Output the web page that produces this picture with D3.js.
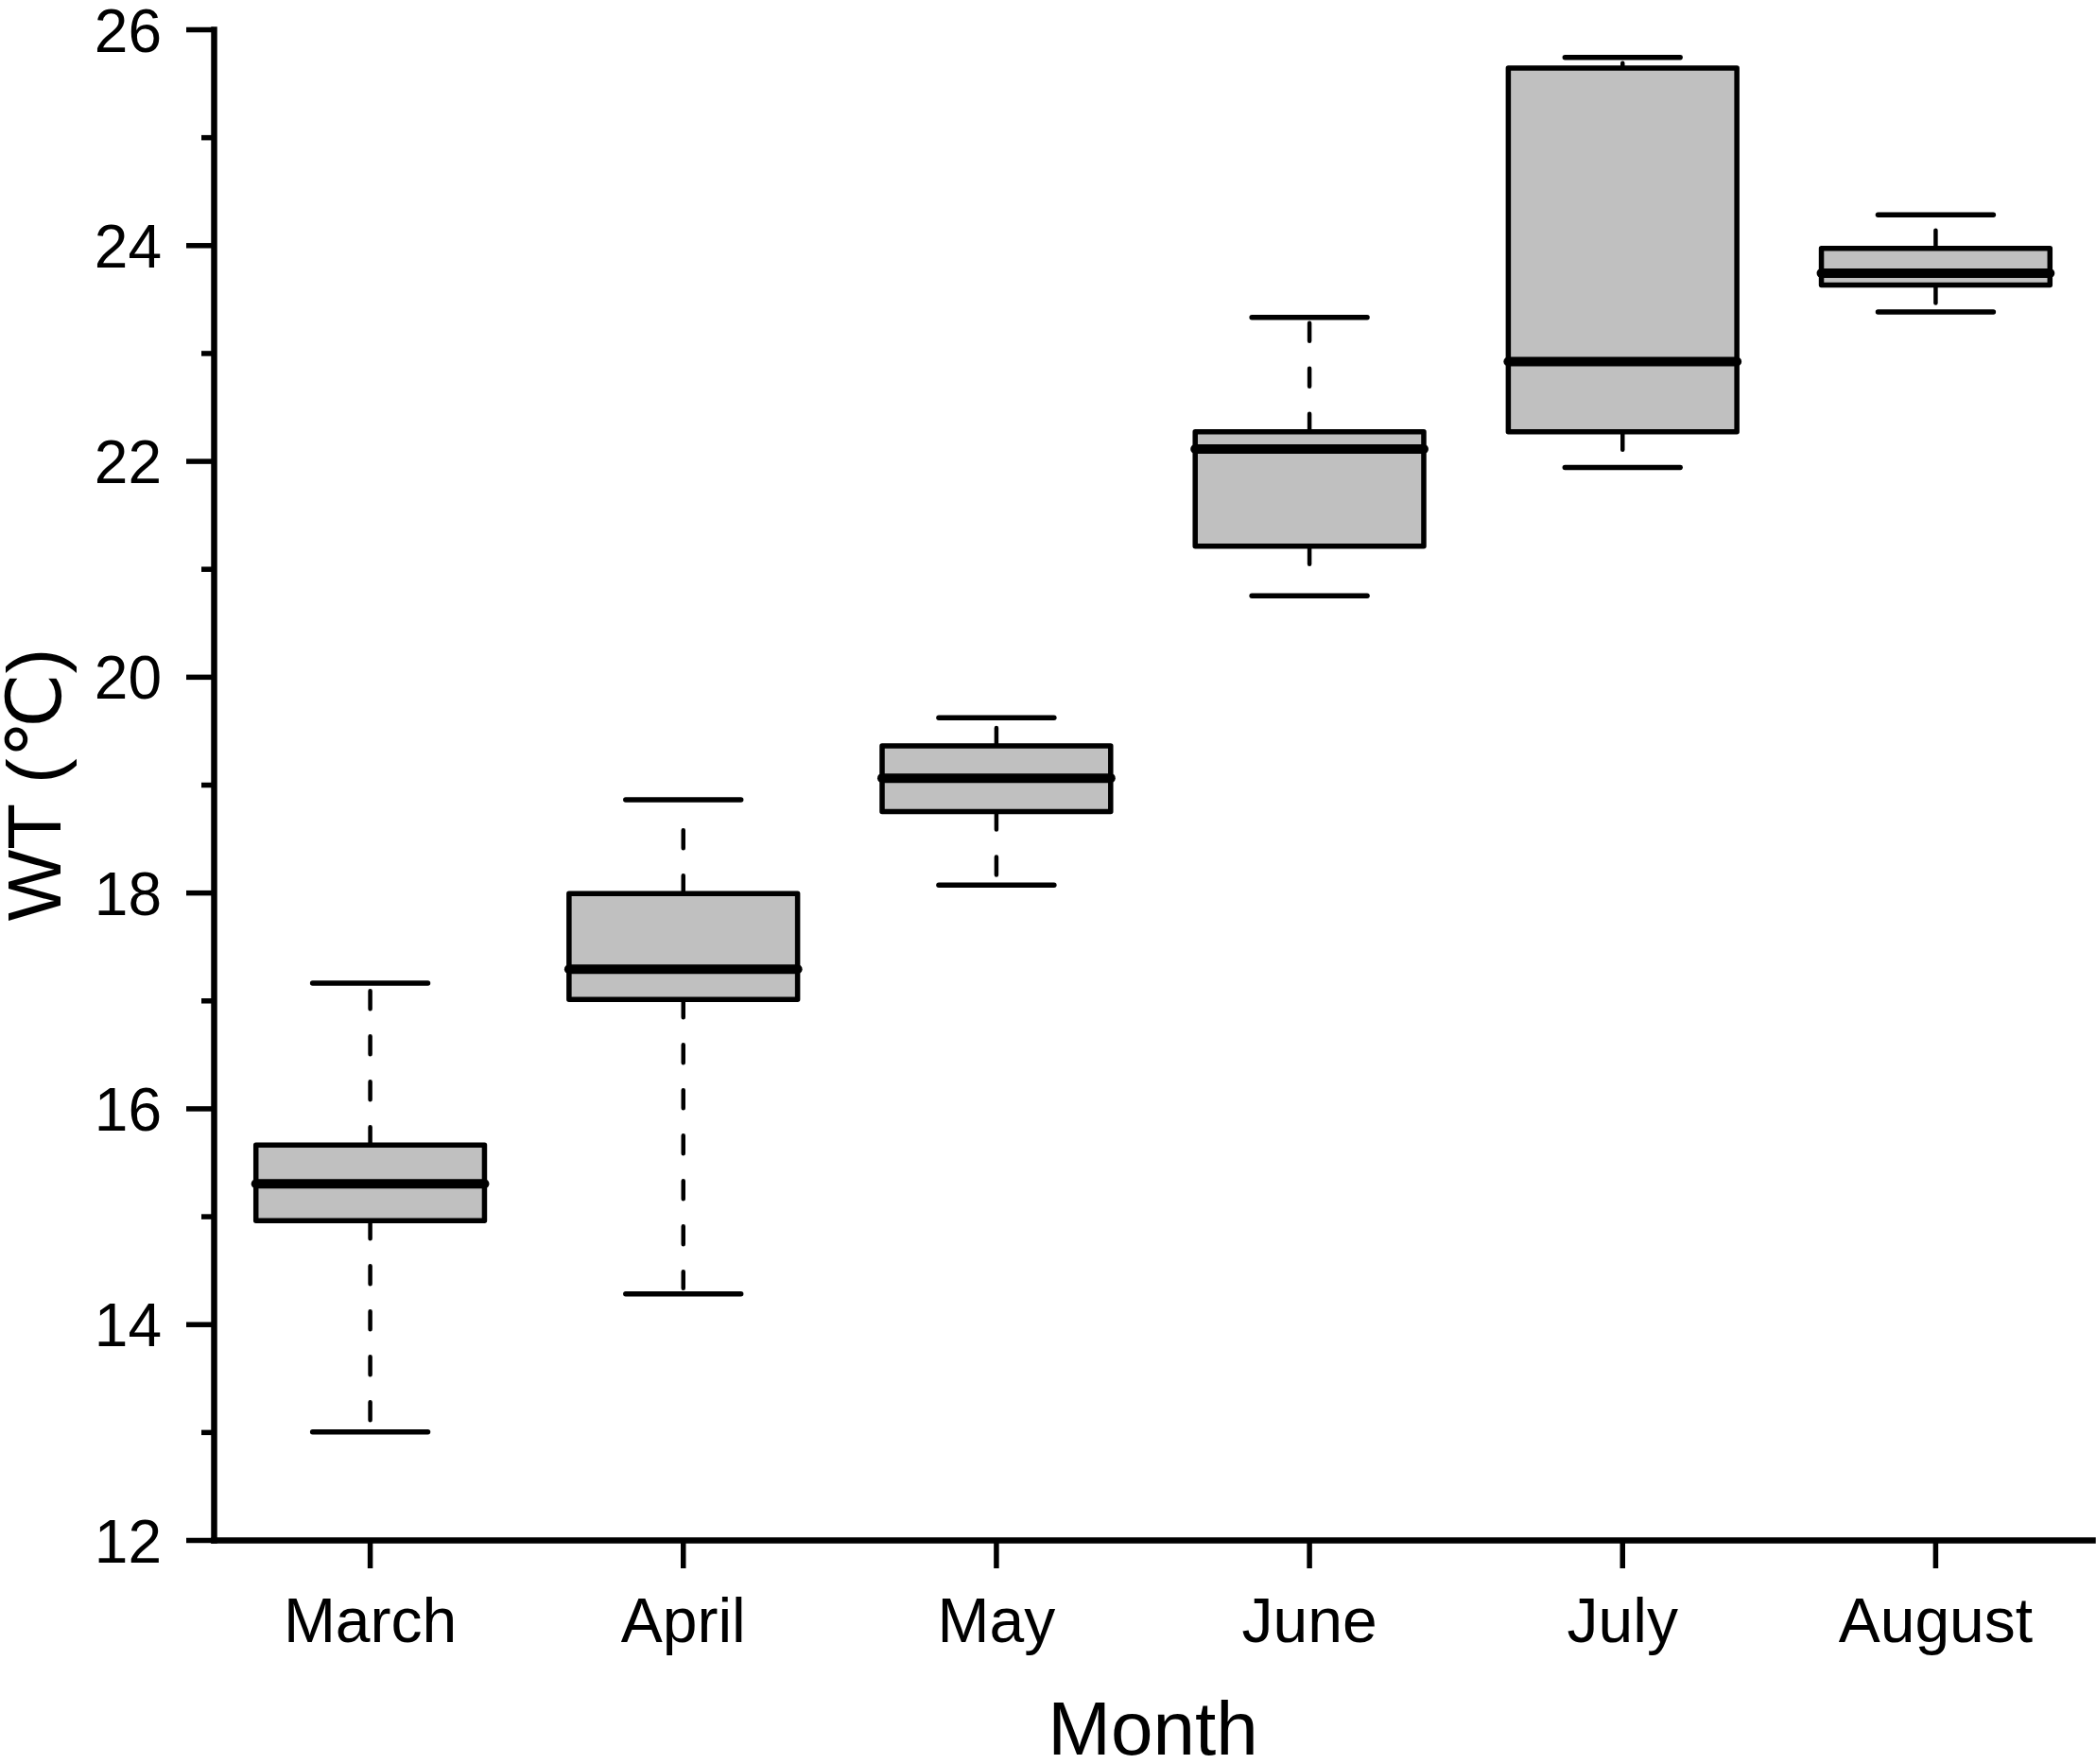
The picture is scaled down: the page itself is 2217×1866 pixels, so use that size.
<!DOCTYPE html>
<html>
<head>
<meta charset="utf-8">
<script src="https://cdn.jsdelivr.net/npm/d3@7"></script>
<style>
  html, body { margin: 0; padding: 0; background: #fff; }
  svg { display: block; }
  text { font-family: "Liberation Sans", Arial, "DejaVu Sans", sans-serif; fill: #000; }
</style>
</head>
<body>
<svg id="chart" width="2217" height="1866"></svg>
<script>
// ---- data ----
const months = ["March", "April", "May", "June", "July", "August"];
const whiskerLow  = [13.00, 14.28, 18.07, 20.75, 21.94, 23.38];
const q1          = [14.96, 17.01, 18.75, 21.21, 22.27, 23.63];
const median      = [15.30, 17.29, 19.06, 22.11, 22.92, 23.74];
const q3          = [15.66, 17.99, 19.36, 22.27, 25.64, 23.97];
const whiskerHigh = [17.16, 18.86, 19.62, 23.33, 25.74, 24.28];
const yMajorTicks = [12, 14, 16, 18, 20, 22, 24, 26];
const yMinorTicks = [13, 15, 17, 19, 21, 23, 25];
const yLabel = "WT (℃)";
const xLabel = "Month";

const rows = months.map((m, i) => ({
  month: m, lo: whiskerLow[i], q1: q1[i], med: median[i], q3: q3[i], hi: whiskerHigh[i]
}));

// ---- layout ----
const svg = d3.select("#chart");
const plotLeft = 226, plotRight = 2213, plotTop = 31, plotBottom = 1629;

const x = d3.scaleBand().domain(months).range([plotLeft, plotRight]).padding(0);
const y = d3.scaleLinear().domain([12, 26]).range([plotBottom, plotTop]);

const boxW = x.bandwidth() * 0.73;
const capW = x.bandwidth() * 0.368;
const cx = d => x(d.month) + x.bandwidth() / 2;

// ---- boxes ----
const g = svg.append("g");

// whiskers (dashed, starting from box edge)
g.selectAll("line.wup").data(rows).join("line")
  .attr("class", "wup")
  .attr("x1", cx).attr("x2", cx)
  .attr("y1", d => y(d.q3)).attr("y2", d => y(d.hi) + 6)
  .attr("stroke", "#000").attr("stroke-width", 4.5)
  .attr("stroke-linecap", "round")
  .attr("stroke-dasharray", "19,29");
g.selectAll("line.wlo").data(rows).join("line")
  .attr("class", "wlo")
  .attr("x1", cx).attr("x2", cx)
  .attr("y1", d => y(d.q1)).attr("y2", d => y(d.lo) - 6)
  .attr("stroke", "#000").attr("stroke-width", 4.5)
  .attr("stroke-linecap", "round")
  .attr("stroke-dasharray", "19,29");

// caps
g.selectAll("line.caphi").data(rows).join("line")
  .attr("class", "caphi")
  .attr("x1", d => cx(d) - capW / 2).attr("x2", d => cx(d) + capW / 2)
  .attr("y1", d => y(d.hi)).attr("y2", d => y(d.hi))
  .attr("stroke", "#000").attr("stroke-width", 5.5).attr("stroke-linecap", "round");
g.selectAll("line.caplo").data(rows).join("line")
  .attr("class", "caplo")
  .attr("x1", d => cx(d) - capW / 2).attr("x2", d => cx(d) + capW / 2)
  .attr("y1", d => y(d.lo)).attr("y2", d => y(d.lo))
  .attr("stroke", "#000").attr("stroke-width", 5.5).attr("stroke-linecap", "round");

// box rect
g.selectAll("rect.box").data(rows).join("rect")
  .attr("class", "box")
  .attr("x", d => cx(d) - boxW / 2)
  .attr("width", boxW)
  .attr("y", d => y(d.q3))
  .attr("height", d => y(d.q1) - y(d.q3))
  .attr("fill", "#c0c0c0")
  .attr("stroke", "#000").attr("stroke-width", 5.5)
  .attr("stroke-linejoin", "round");

// medians
g.selectAll("line.med").data(rows).join("line")
  .attr("class", "med")
  .attr("x1", d => cx(d) - boxW / 2).attr("x2", d => cx(d) + boxW / 2)
  .attr("y1", d => y(d.med)).attr("y2", d => y(d.med))
  .attr("stroke", "#000").attr("stroke-width", 10).attr("stroke-linecap", "round");

// ---- axes ----
const axisW = 6.5, tickW = 5.5;

const yAxis = svg.append("g").attr("transform", `translate(${plotLeft},0)`)
  .call(d3.axisLeft(y).tickValues(yMajorTicks).tickSize(29).tickSizeOuter(0).tickPadding(26).tickFormat(d3.format("d")));
yAxis.select(".domain").attr("stroke", "#000").attr("stroke-width", axisW).attr("stroke-linecap", "square");
yAxis.selectAll(".tick line").attr("stroke", "#000").attr("stroke-width", tickW);
yAxis.selectAll(".tick text").attr("font-size", 64).attr("dy", "0.36em")
  .attr("font-family", "'Liberation Sans', Arial, sans-serif");

const yMinor = svg.append("g").attr("transform", `translate(${plotLeft},0)`)
  .call(d3.axisLeft(y).tickValues(yMinorTicks).tickSize(13).tickSizeOuter(0).tickFormat(""));
yMinor.select(".domain").remove();
yMinor.selectAll(".tick line").attr("stroke", "#000").attr("stroke-width", tickW);

const xAxis = svg.append("g").attr("transform", `translate(0,${plotBottom})`)
  .call(d3.axisBottom(x).tickSize(30).tickSizeOuter(0).tickPadding(31));
xAxis.select(".domain").attr("stroke", "#000").attr("stroke-width", axisW).attr("stroke-linecap", "square");
xAxis.selectAll(".tick line").attr("stroke", "#000").attr("stroke-width", tickW);
xAxis.selectAll(".tick text").attr("font-size", 66)
  .attr("font-family", "'Liberation Sans', Arial, sans-serif");

// ---- titles ----
svg.append("text")
  .attr("x", (plotLeft + plotRight) / 2).attr("y", 1856)
  .attr("text-anchor", "middle").attr("font-size", 80)
  .text(xLabel);

svg.append("text")
  .attr("transform", `translate(64,${(plotTop + plotBottom) / 2}) rotate(-90)`)
  .attr("text-anchor", "middle").attr("font-size", 80)
  .text(yLabel);
</script>
</body>
</html>
